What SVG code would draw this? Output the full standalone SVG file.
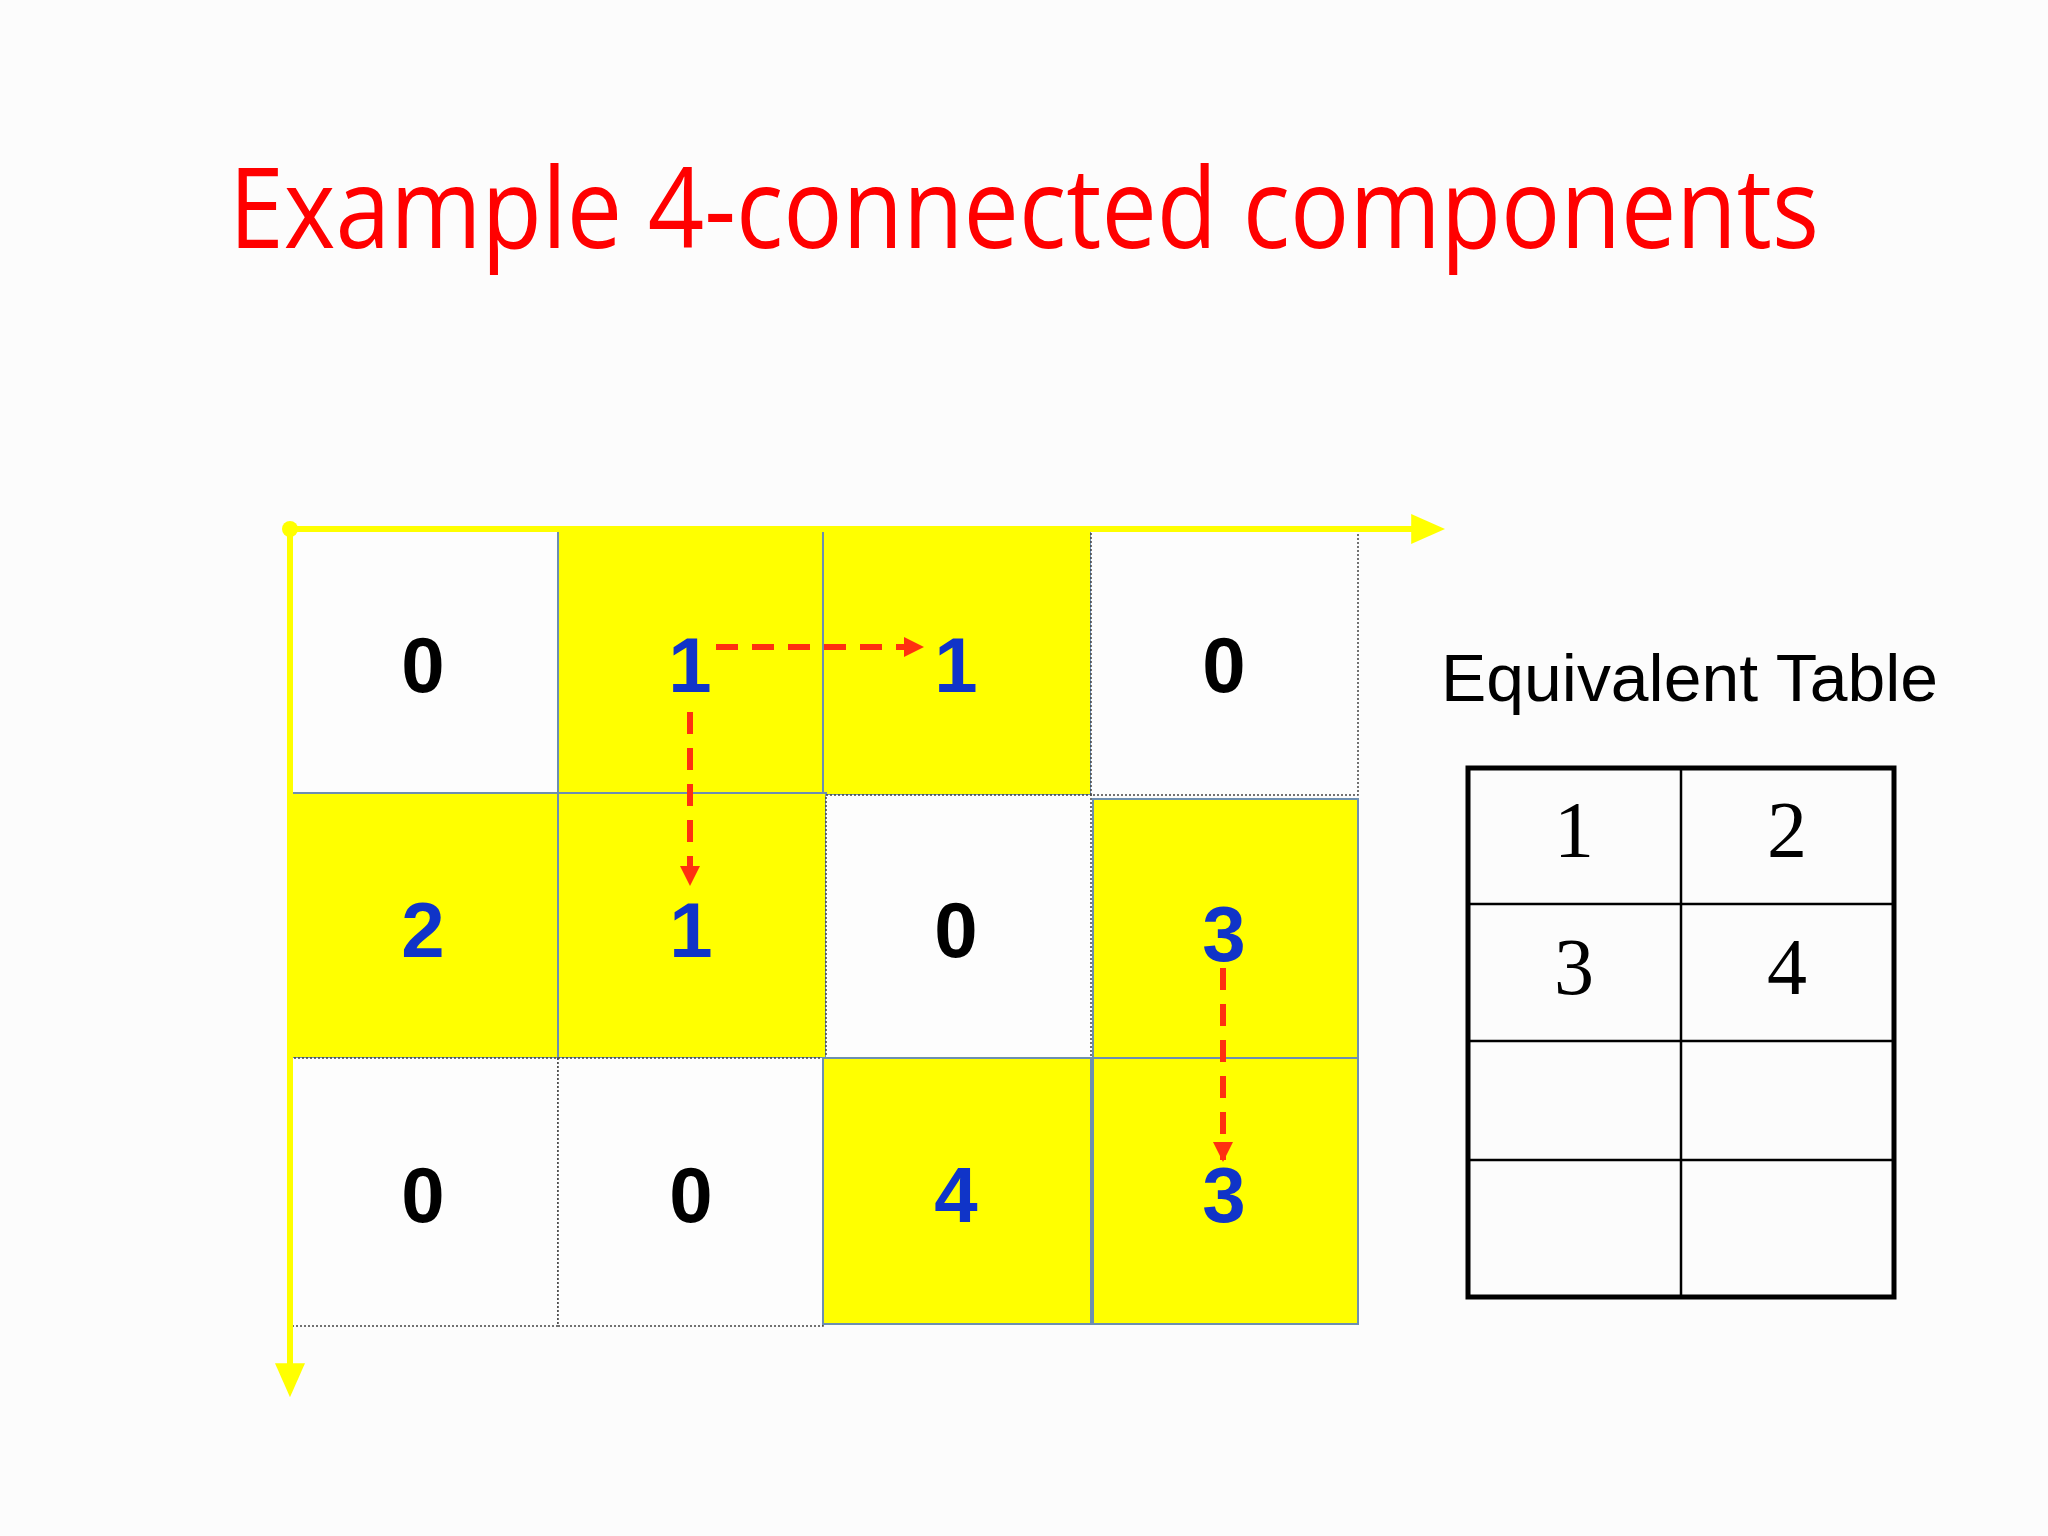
<svg xmlns="http://www.w3.org/2000/svg" width="2048" height="1536" viewBox="0 0 2048 1536">
<defs>
<style>
.y{fill:#ffff00;stroke:#6d8fb0;stroke-width:2}
.w{fill:#fdfdfd;stroke:#444;stroke-width:1.5;stroke-dasharray:2 2}
.d{font-family:"Liberation Sans",Arial,sans-serif;font-weight:bold;font-size:78px;text-anchor:middle}
.b{fill:#1034c8}.k{fill:#000}
.t{font-family:"Liberation Serif","Times New Roman",serif;font-size:80px;text-anchor:middle}
.r{stroke:#ff3010;stroke-width:6;stroke-dasharray:22 14;fill:none}
</style>
<marker id="ya" viewBox="0 0 10 10" refX="2" refY="5" markerWidth="34" markerHeight="30" orient="auto" markerUnits="userSpaceOnUse" preserveAspectRatio="none"><path d="M0,0 L10,5 L0,10 z" fill="#ffff00"/></marker>
<marker id="rh" viewBox="0 0 10 10" refX="9" refY="5" markerWidth="20" markerHeight="20" orient="auto" markerUnits="userSpaceOnUse"><path d="M0,0 L10,5 L0,10 z" fill="#ff3010"/></marker>
</defs>
<rect width="2048" height="1536" fill="#fcfcfc"/>
<text x="1024" y="248" font-family="'Open Sans','Noto Sans',sans-serif" font-size="112" fill="#ff0000" text-anchor="middle" textLength="1590" lengthAdjust="spacingAndGlyphs">Example 4-connected components</text>
<g id="grid">
<g id="c00"><rect class="w" x="290" y="529" width="268" height="264"/><text class="d k" x="423" y="692">0</text></g>
<g id="c01"><rect class="y" x="558" y="529" width="265" height="264"/><text class="d b" x="690" y="692">1</text></g>
<g id="c02"><rect class="y" x="823" y="529" width="268" height="266"/><text class="d b" x="956" y="692">1</text></g>
<g id="c03"><rect class="w" x="1091" y="529" width="267" height="266"/><text class="d k" x="1224" y="692">0</text></g>
<g id="c10"><rect class="y" x="290" y="793" width="268" height="265"/><text class="d b" x="423" y="957">2</text></g>
<g id="c11"><rect class="y" x="558" y="793" width="268" height="265"/><text class="d b" x="691" y="957">1</text></g>
<g id="c12"><rect class="w" x="826" y="795" width="265" height="263"/><text class="d k" x="956" y="957">0</text></g>
<g id="c13"><rect class="y" x="1093" y="799" width="265" height="259"/><text class="d b" x="1224" y="961">3</text></g>
<g id="c20"><rect class="w" x="290" y="1058" width="268" height="268"/><text class="d k" x="423" y="1222">0</text></g>
<g id="c21"><rect class="w" x="558" y="1058" width="265" height="268"/><text class="d k" x="691" y="1222">0</text></g>
<g id="c22"><rect class="y" x="823" y="1058" width="268" height="266"/><text class="d b" x="956" y="1222">4</text></g>
<g id="c23"><rect class="y" x="1093" y="1058" width="265" height="266"/><text class="d b" x="1224" y="1222">3</text></g>
</g>
<g id="connectors">
<line x1="290" y1="529" x2="1418" y2="529" stroke="#ffff00" stroke-width="6" marker-end="url(#ya)"/>
<line x1="290" y1="529" x2="290" y2="1370" stroke="#ffff00" stroke-width="6" marker-end="url(#ya)"/>
<circle cx="290" cy="529" r="8" fill="#ffff00"/>
<line class="r" x1="716" y1="647" x2="922" y2="647" marker-end="url(#rh)"/>
<line class="r" x1="690" y1="712" x2="690" y2="884" marker-end="url(#rh)"/>
<line class="r" x1="1223" y1="968" x2="1223" y2="1160" marker-end="url(#rh)"/>
</g>
<text x="1441" y="701" font-family="'Liberation Sans',Arial,sans-serif" font-size="66" fill="#000" textLength="497" lengthAdjust="spacingAndGlyphs">Equivalent Table</text>
<g id="table" stroke="#000" fill="none">
<rect x="1468" y="768" width="426" height="529" stroke-width="5"/>
<line x1="1681" y1="768" x2="1681" y2="1297" stroke-width="2.5"/>
<line x1="1468" y1="904" x2="1894" y2="904" stroke-width="2.5"/>
<line x1="1468" y1="1041" x2="1894" y2="1041" stroke-width="2.5"/>
<line x1="1468" y1="1160" x2="1894" y2="1160" stroke-width="2.5"/>
</g>
<g id="tvals" fill="#000">
<text class="t" x="1574" y="857">1</text><text class="t" x="1787" y="857">2</text>
<text class="t" x="1574" y="994">3</text><text class="t" x="1787" y="994">4</text>
</g>
</svg>
